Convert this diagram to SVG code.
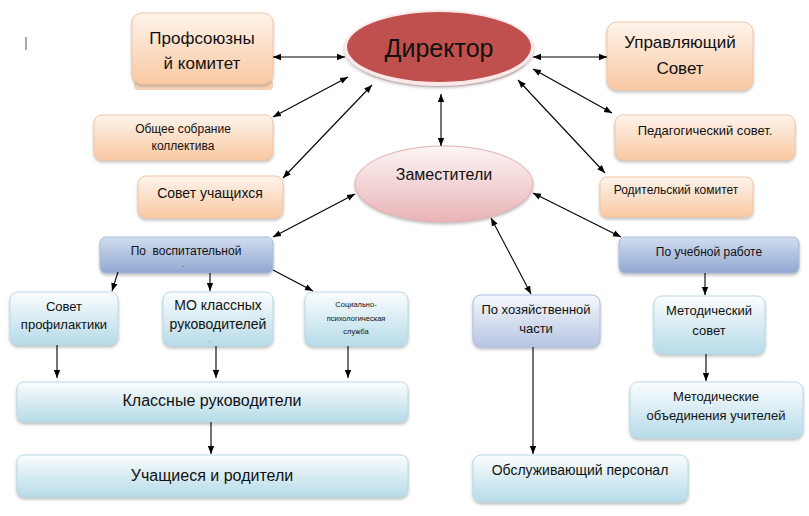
<svg xmlns="http://www.w3.org/2000/svg" width="809" height="516" viewBox="0 0 809 516">
<defs>
<linearGradient id="gOr" x1="0" y1="0" x2="0" y2="1"><stop offset="0" stop-color="#fef4ec"/><stop offset="1" stop-color="#f9c8a2"/></linearGradient>
<linearGradient id="gCy" x1="0" y1="0" x2="0" y2="1"><stop offset="0" stop-color="#fbfdfe"/><stop offset="1" stop-color="#b6dbe8"/></linearGradient>
<linearGradient id="gBl" x1="0" y1="0" x2="0" y2="1"><stop offset="0" stop-color="#d2ddef"/><stop offset="1" stop-color="#8fa7d2"/></linearGradient>
<linearGradient id="gBl2" x1="0" y1="0" x2="0" y2="1"><stop offset="0" stop-color="#f6f8fc"/><stop offset="1" stop-color="#b6c5e3"/></linearGradient>
<linearGradient id="gPk" x1="0" y1="0" x2="0" y2="1"><stop offset="0" stop-color="#fdf5f5"/><stop offset="1" stop-color="#e9b3b6"/></linearGradient>
<filter id="sh" x="-10%" y="-10%" width="120%" height="130%"><feDropShadow dx="0" dy="2" stdDeviation="1.5" flood-color="#808080" flood-opacity="0.5"/></filter>
<marker id="ah" viewBox="0 0 10 10" refX="10" refY="5" markerWidth="8" markerHeight="8" orient="auto-start-reverse" markerUnits="userSpaceOnUse"><path d="M0,1 L10,5 L0,9 z" fill="#000"/></marker>
</defs>
<style>
.t{font-family:"Liberation Sans",Arial,sans-serif;fill:#111;text-anchor:middle}
.or{fill:url(#gOr);stroke:#f2c7a6;stroke-width:1;filter:url(#sh)}
.cy{fill:url(#gCy);stroke:#b9dbe6;stroke-width:1;filter:url(#sh)}
.bl{fill:url(#gBl);stroke:#a9bbdc;stroke-width:1;filter:url(#sh)}
.bl2{fill:url(#gBl2);stroke:#aebfe0;stroke-width:1;filter:url(#sh)}
.c{stroke:#000;stroke-width:1.1;fill:none;marker-end:url(#ah)}
.b{stroke:#000;stroke-width:1.1;fill:none;marker-end:url(#ah);marker-start:url(#ah)}
</style>
<rect width="809" height="516" fill="#fff"/>
<line x1="26" y1="37" x2="26" y2="50" stroke="#555" stroke-width="1"/>

<g id="profkom"><rect x="134" y="80" width="139" height="10" rx="4" fill="#f9d2b2"/><rect class="or" x="132" y="13" width="141" height="71" rx="10"/><text class="t" x="202" y="44" font-size="17">Профсоюзны</text><text class="t" x="202" y="69" font-size="17">й комитет</text></g>
<g id="obshee"><rect class="or" x="94" y="115" width="179" height="45" rx="8"/><text class="t" x="183" y="133" font-size="12">Общее собрание</text><text class="t" x="183" y="150" font-size="12">коллектива</text></g>
<g id="sovuch"><rect class="or" x="138" y="176" width="145" height="42" rx="8"/><text class="t" x="210" y="198" font-size="14">Совет учащихся</text></g>

<g id="direktor"><ellipse cx="440" cy="57" rx="88" ry="30" fill="#e8c8c8" opacity="0.8"/><ellipse cx="439" cy="48" rx="95" ry="38" fill="#fbe9e9" filter="url(#sh)"/><ellipse cx="439" cy="47" rx="92" ry="35" fill="#c0504d"/><text class="t" x="439" y="57" font-size="25">Директор</text></g>
<g id="zam"><ellipse cx="444" cy="184" rx="89" ry="38" fill="url(#gPk)" stroke="#e4b0b3" stroke-width="1" filter="url(#sh)"/><text class="t" x="444" y="180" font-size="16">Заместители</text></g>

<g id="upravl"><rect class="or" x="607" y="22" width="146" height="68" rx="10"/><text class="t" x="680" y="48" font-size="17">Управляющий</text><text class="t" x="680" y="74" font-size="17">Совет</text></g>
<g id="pedsov"><rect class="or" x="615" y="115" width="180" height="45" rx="8"/><text class="t" x="705" y="135" font-size="13">Педагогический совет.</text></g>
<g id="rodkom"><rect class="or" x="600" y="177" width="153" height="40" rx="7"/><text class="t" x="676" y="194" font-size="12">Родительский комитет</text></g>

<g id="vosp"><rect class="bl" x="100" y="237" width="173" height="36" rx="6"/><text class="t" x="186" y="255" font-size="12" xml:space="preserve">По  воспитательной</text><text class="t" x="183" y="266" font-size="7">ˏ</text></g>
<g id="sovprof"><rect class="cy" x="10" y="292" width="108" height="53" rx="8"/><text class="t" x="64" y="311" font-size="13">Совет</text><text class="t" x="64" y="329" font-size="13">профилактики</text></g>
<g id="mo"><rect class="cy" x="163" y="292" width="110" height="54" rx="8"/><text class="t" x="218" y="310" font-size="14">МО классных</text><text class="t" x="218" y="329" font-size="14">руководителей</text><text class="t" x="210" y="345" font-size="6">ˈ</text></g>
<g id="socpsy"><rect class="cy" x="305" y="292" width="103" height="54" rx="8"/><text class="t" x="356" y="307" font-size="7.5">Социально-</text><text class="t" x="356" y="321" font-size="7.5">психологическая</text><text class="t" x="356" y="334" font-size="7.5">служба</text></g>

<g id="klruk"><rect class="cy" x="17" y="382" width="391" height="40" rx="7"/><text class="t" x="212" y="406" font-size="16">Классные руководители</text></g>
<g id="uchrod"><rect class="cy" x="17" y="455" width="391" height="42" rx="7"/><text class="t" x="212" y="481" font-size="16">Учащиеся и родители</text></g>

<g id="hoz"><rect class="bl2" x="473" y="295" width="127" height="52" rx="8"/><text class="t" x="536" y="314" font-size="13">По хозяйственной</text><text class="t" x="536" y="333" font-size="13">части</text></g>
<g id="obsl"><rect class="cy" x="473" y="455" width="215" height="47" rx="8"/><text class="t" x="580" y="475" font-size="14">Обслуживающий персонал</text></g>

<g id="ucheb"><rect class="bl" x="619" y="237" width="180" height="36" rx="6"/><text class="t" x="709" y="256" font-size="12">По учебной работе</text></g>
<g id="metsov"><rect class="cy" x="654" y="296" width="111" height="58" rx="8"/><text class="t" x="709" y="315" font-size="13">Методический</text><text class="t" x="709" y="335" font-size="13">совет</text></g>
<g id="metob"><rect class="cy" x="630" y="382" width="173" height="56" rx="8"/><text class="t" x="716" y="401" font-size="13">Методические</text><text class="t" x="716" y="420" font-size="13">объединения учителей</text></g>

<g id="connectors">
<line class="b" x1="345" y1="57" x2="273" y2="57"/>
<line class="b" x1="348" y1="77" x2="273" y2="117"/>
<line class="b" x1="372" y1="85" x2="283" y2="178"/>
<line class="b" x1="533" y1="57" x2="607" y2="57"/>
<line class="b" x1="533" y1="69" x2="612" y2="113"/>
<line class="b" x1="518" y1="80" x2="605" y2="173"/>
<line class="b" x1="441" y1="94" x2="441" y2="146"/>
<line class="b" x1="355" y1="194" x2="273" y2="237"/>
<line class="b" x1="491" y1="218" x2="531" y2="294"/>
<line class="b" x1="533" y1="193" x2="621" y2="237"/>
<line class="c" x1="118" y1="272" x2="112" y2="291"/>
<line class="c" x1="210" y1="273" x2="210" y2="291"/>
<line class="c" x1="273" y1="270" x2="313" y2="291"/>
<line class="c" x1="57" y1="345" x2="57" y2="378"/>
<line class="c" x1="216" y1="346" x2="216" y2="378"/>
<line class="c" x1="348" y1="346" x2="348" y2="378"/>
<line class="c" x1="211" y1="422" x2="211" y2="454"/>
<line class="c" x1="533" y1="347" x2="533" y2="454"/>
<line class="c" x1="705" y1="273" x2="705" y2="295"/>
<line class="c" x1="706" y1="354" x2="706" y2="381"/>
</g>
</svg>
